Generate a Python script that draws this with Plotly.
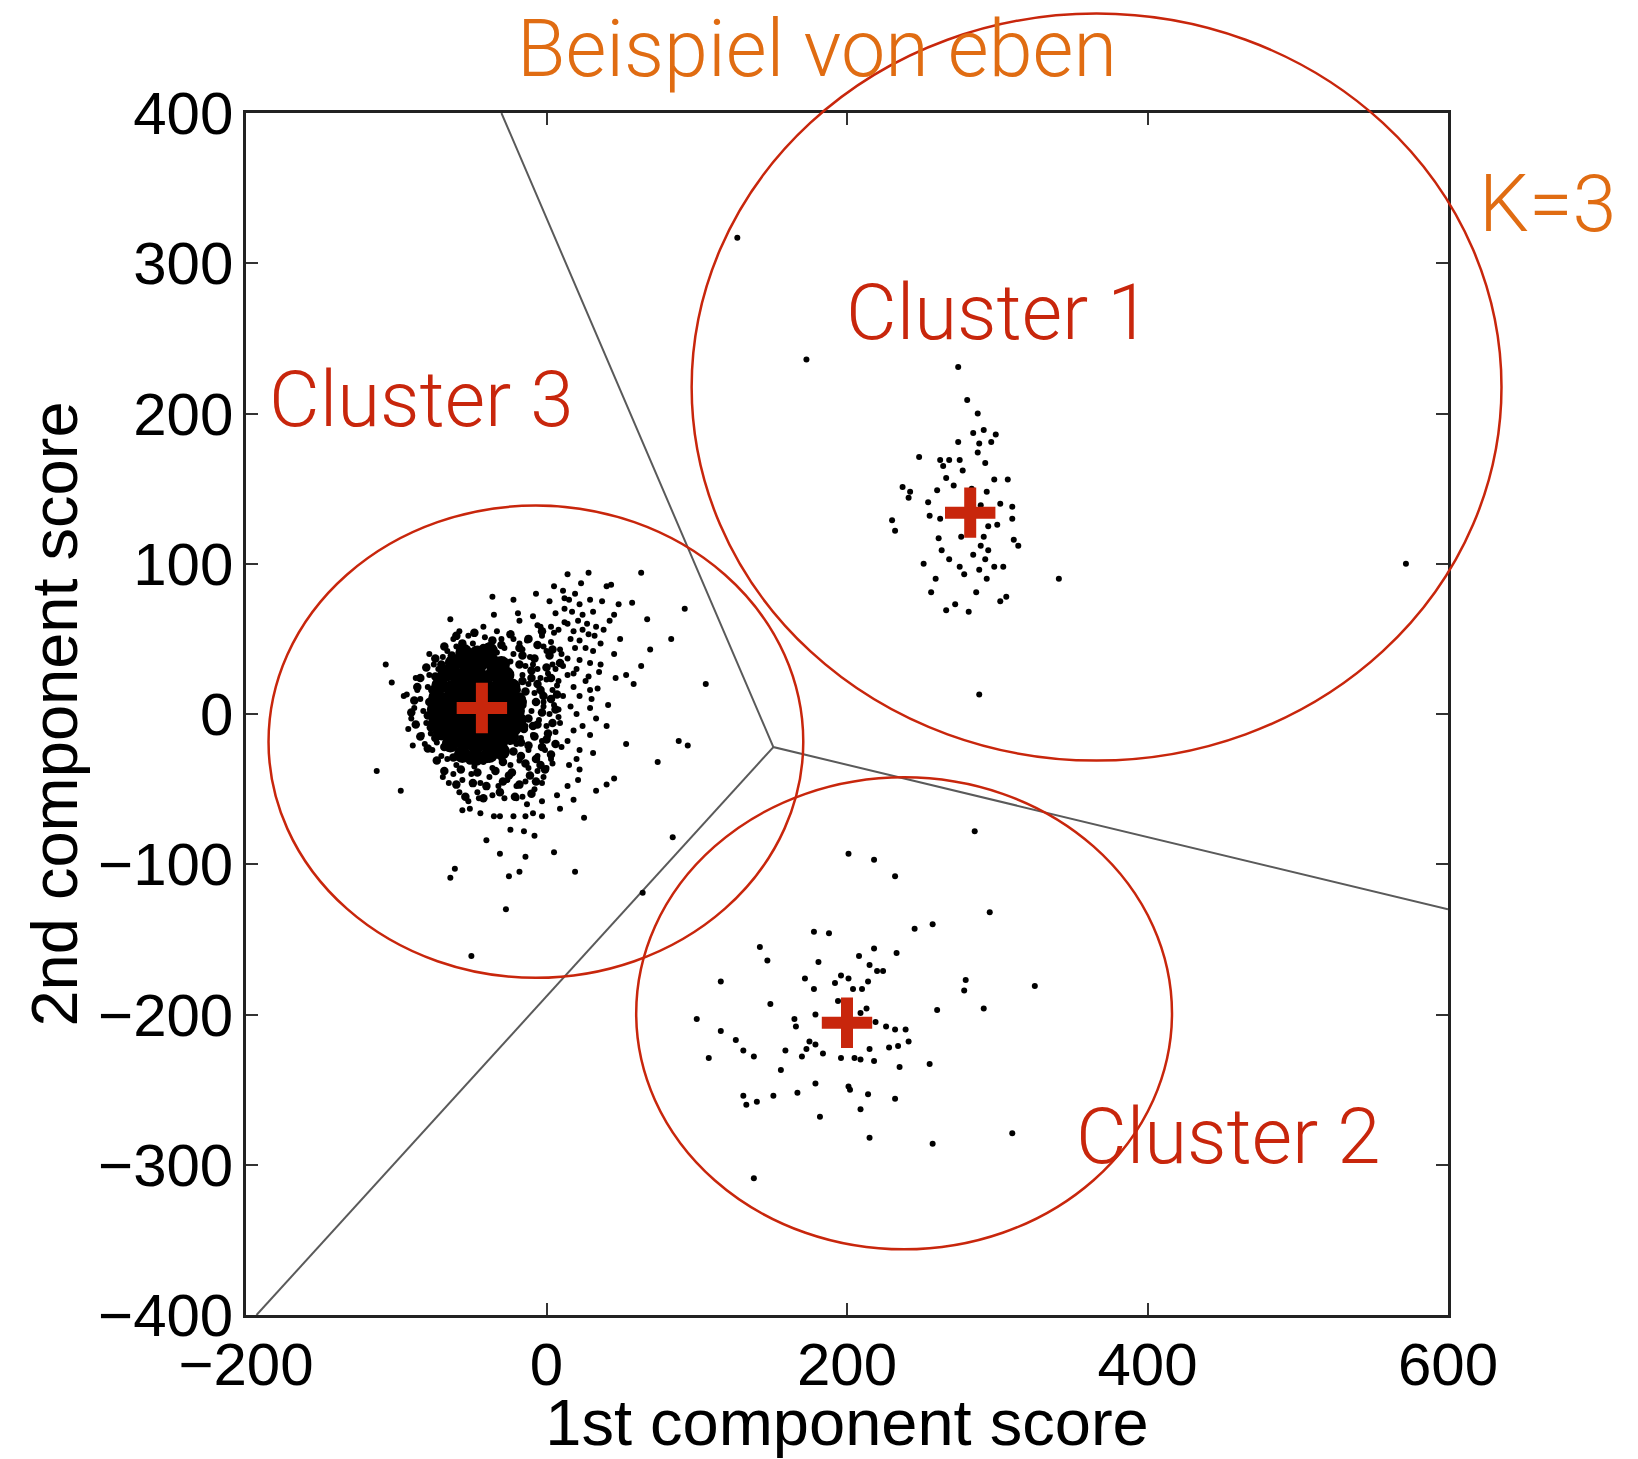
import plotly.graph_objects as go

# ---- data: principal component scores grouped by k-means cluster (K=3) ----

# cluster 3: loose points around the dense core
cluster3_points = [
    (14, 93), (28, 94), (63, 94), (43, 86), (40, 85), (23, 87), (5, 85), (-7, 80),
    (11, 82), (19, 80), (-36, 78), (-22, 76), (2, 75), (12, 77), (15, 76), (29, 76),
    (37, 75), (22, 73), (48, 73), (57, 74), (92, 70), (-35, 66), (-19, 67), (-9, 65),
    (6, 67), (17, 68), (31, 68), (45, 66), (42, 62), (67, 63), (-64, 63), (-18, 62),
    (-6, 59), (3, 58), (12, 61), (21, 62), (27, 60), (33, 58), (-58, 55), (-42, 58),
    (-33, 55), (-22, 50), (-13, 49), (-3, 52), (5, 54), (16, 50), (22, 49), (28, 53),
    (49, 50), (83, 50), (36, 47), (69, 43), (19, 44), (9, 43), (0, 42), (31, 42),
    (-78, 40), (22, 36), (29, 34), (36, 33), (45, 40), (14, 37), (63, 32), (-107, 33),
    (-9, 33), (4, 33), (11, 32), (18, 27), (28, 25), (35, 28), (46, 24), (53, 26),
    (58, 20), (106, 20), (-103, 21), (-93, 13), (0, 23), (7, 19), (18, 18), (29, 16),
    (-3, 14), (11, 12), (22, 12), (34, 17), (41, 6), (8, 3), (16, 5), (29, 4),
    (-2, 5), (33, -3), (40, -8), (9, -6), (18, -11), (29, -14), (53, -20), (88, -18),
    (94, -21), (1, -15), (10, -22), (22, -24), (31, -26), (74, -32), (15, -34), (22, -37),
    (4, -33), (-89, -21), (-113, -38), (-97, -51), (-69, -42), (45, -43), (40, -47), (33, -51),
    (14, -48), (21, -44), (-3, -46), (7, -54), (18, -57), (-20, -56), (-13, -60), (-3, -58),
    (9, -63), (-45, -56), (-56, -64), (-51, -63), (-44, -66), (-35, -68), (-31, -68), (-22, -68),
    (-14, -68), (-9, -66), (-3, -68), (25, -69), (-24, -77), (-15, -78), (-8, -81), (-40, -84),
    (84, -82), (-31, -93), (-14, -95), (5, -92), (-61, -103), (-64, -109), (-25, -108), (-18, -105),
    (19, -105), (64, -119), (-27, -130), (-50, -161),
    (-84, 10), (-82, 2), (-80, -6), (-79, 18), (-78, 26), (-77, -13), (-76, 8), (-75, 33),
    (-74, -2), (-73, -19), (-72, 14), (-71, 22), (-70, -10), (-72, 30), (-69, 38), (-83, -14),
    (-86, 16), (-81, -20), (-76, -24), (-70, -28), (-88, 4), (-90, -3), (-87, 24), (-95, 12),
    (-92, -10), (-66, 42), (-60, 45), (-54, 41), (-49, 47), (-44, 43), (-38, 46), (-33, 41),
    (-28, 44), (-22, 40), (-16, 43), (-62, 50), (-52, 52), (-41, 51), (-30, 50), (-18, 47),
    (-11, 38), (-57, 38), (-46, 39), (-35, 37), (-24, 35), (-14, 32), (-16, 26), (-12, 20),
    (-8, 14), (-15, 8), (-10, 2), (-5, -4), (-14, -8), (-9, -14), (-3, -18), (-17, -16),
    (-12, -24), (-6, -28), (-2, 8), (2, 0), (4, 16), (-4, 24), (-19, 16), (-16, -2),
    (0, -8), (6, -12), (-6, 30), (1, 27), (5, 6), (-1, -24), (3, -30), (8, -2),
    (8, 22), (-20, -20), (-66, -30), (-60, -34), (-54, -30), (-48, -35), (-42, -32), (-36, -36),
    (-30, -30), (-24, -34), (-18, -31), (-12, -36), (-6, -38), (-62, -40), (-56, -44), (-50, -40),
    (-44, -46), (-38, -42), (-32, -48), (-26, -44), (-20, -48), (-14, -45), (-8, -50), (-2, -42),
    (-46, -52), (-36, -54), (-28, -56), (-16, -55), (-58, -52), (-52, -58), (-65, -46), (0, -36),
    (-2, 45), (3, 48), (8, 56), (14, 60), (18, 55), (24, 56), (10, 40), (26, 44),
    (32, 52), (38, 56), (24, 66), (12, 70), (-4, 58), (6, 30), (14, 26), (20, 30),
    (26, 22), (30, 10), (20, 0), (24, -8), (14, -18), (20, -30),
]

# cluster 3: crowded band around the centre, where the points overlap heavily
cluster3_crowded = [
    (-60, 52), (-48, 54), (-36, 49), (-24, 53), (-12, 50), (-3, 55),
    (-68, 45), (-56, 47), (-42, 44), (-30, 46), (-18, 44), (-6, 46), (4, 43),
    (-74, 37), (-63, 39), (-16, 39), (-8, 37), (2, 39),
    (-80, 31), (-70, 33), (-18, 33), (-10, 29), (0, 31), (9, 34),
    (-84, 24), (-74, 25), (-16, 22), (-6, 20), (3, 24),
    (-86, 18), (-76, 16), (-14, 15), (-4, 16), (7, 13),
    (-88, 9), (-78, 8), (-16, 6), (-7, 8), (3, 10),
    (-90, 1), (-79, -1), (-12, -3), (-3, 1), (6, 3),
    (-87, -7), (-77, -9), (-15, -10), (-6, -7), (4, -6),
    (-84, -15), (-74, -16), (-17, -19), (-8, -15), (1, -13),
    (-79, -23), (-68, -22), (-22, -25), (-12, -21), (-3, -22), (6, -20),
    (-73, -31), (-62, -29), (-51, -31), (-40, -30), (-29, -32), (-17, -28), (-7, -30), (3, -27),
    (-68, -38), (-57, -37), (-46, -39), (-34, -38), (-23, -39), (-11, -41), (-1, -37),
    (-60, -47), (-49, -46), (-40, -48), (-29, -45), (-18, -47), (-7, -45),
    (-54, -55), (-42, -56), (-31, -52), (-21, -55), (-10, -53),
    (-10, 24), (-2, 12), (-9, -8), (0, -17), (-14, -33), (-4, -34), (-25, -41),
]

# cluster 3: the saturated centre of the point cloud
cluster3_core = [
    (-56, -27), (-47, -29), (-38, -27), (-30, -25),
    (-64, -20), (-55, -19), (-47, -21), (-39, -20), (-31, -18), (-24, -15),
    (-70, -12), (-62, -14), (-54, -13), (-46, -14), (-38, -13), (-30, -11), (-22, -9),
    (-73, -5), (-66, -6), (-58, -7), (-50, -6), (-42, -7), (-34, -4), (-26, -3), (-19, -5),
    (-74, 3), (-67, 1), (-60, 1), (-52, -1), (-44, 0), (-36, 2), (-28, 4), (-20, 2),
    (-73, 11), (-66, 9), (-58, 9), (-50, 8), (-42, 9), (-34, 10), (-26, 12), (-19, 9),
    (-71, 19), (-63, 17), (-55, 17), (-47, 16), (-39, 17), (-31, 19), (-23, 18),
    (-67, 27), (-59, 25), (-51, 25), (-43, 24), (-35, 27), (-27, 26),
    (-62, 34), (-53, 33), (-45, 33), (-37, 35), (-30, 33),
    (-55, 41), (-46, 40), (-38, 42),
]

cluster1_points = [
    (127, 317), (173, 236), (274, 231), (280, 209), (287, 200), (284, 187), (291, 189), (299, 186),
    (274, 181), (288, 180), (296, 181), (287, 174), (248, 171), (262, 169), (268, 169), (275, 169),
    (264, 165), (292, 167), (277, 162), (266, 157), (298, 156), (307, 156), (271, 152), (237, 151),
    (242, 148), (241, 144), (260, 149), (283, 150), (293, 148), (254, 141), (289, 139), (302, 140),
    (310, 138), (255, 132), (262, 130), (310, 130), (230, 129), (232, 122), (294, 125), (300, 126),
    (291, 118), (261, 117), (276, 118), (311, 116), (314, 112), (289, 112), (263, 109), (284, 106),
    (294, 109), (268, 103), (292, 103), (251, 100), (275, 98), (288, 96), (298, 98), (304, 98),
    (278, 93), (293, 90), (259, 90), (341, 90), (256, 81), (286, 81), (306, 78), (302, 75),
    (272, 73), (266, 69), (281, 68), (288, 13), (572, 100),
]

cluster2_points = [
    (285, -78), (201, -93), (218, -97), (232, -108), (295, -132), (257, -140), (245, -143), (178, -145),
    (188, -146), (142, -155), (147, -164), (218, -156), (233, -159), (208, -161), (181, -165), (215, -167),
    (220, -171), (224, -171), (116, -178), (172, -176), (196, -174), (201, -176), (192, -179), (214, -178),
    (210, -183), (178, -183), (204, -183), (279, -177), (278, -184), (325, -181), (149, -193), (194, -191),
    (213, -196), (209, -199), (179, -200), (260, -197), (291, -196), (100, -203), (165, -203), (166, -208),
    (219, -205), (226, -208), (232, -210), (239, -210), (116, -211), (126, -217), (175, -218), (179, -220),
    (241, -218), (228, -222), (234, -221), (131, -224), (159, -224), (173, -223), (138, -228), (170, -228),
    (184, -226), (196, -229), (205, -229), (209, -230), (215, -223), (218, -231), (108, -229), (156, -237),
    (235, -235), (255, -233), (179, -246), (201, -248), (202, -250), (131, -254), (133, -260), (140, -258),
    (151, -254), (167, -252), (214, -253), (232, -256), (209, -263), (182, -268), (215, -282), (257, -286),
    (310, -279), (138, -309),
]

# cluster centres (order: cluster 1, cluster 2, cluster 3)
centroid_x = [282, 200, -43]
centroid_y = [134, -205.5, 4]

# Voronoi cell boundaries between the three centres
boundary_x = [-30, 151, 600, None, -193, 151]
boundary_y = [400, -22, -130, None, -400, -22]

# hand-drawn outlines around each cluster: (x0, x1, y0, y1) in score units
cluster_outlines = [
    (96.6, 635.6, -31.0, 466.2),
    (59.7, 416.3, -356.3, -42.1),
    (-185.0, 170.9, -175.6, 138.7),
]

x_ticks = [-200, 0, 200, 400, 600]
y_ticks = [-400, -300, -200, -100, 0, 100, 200, 300, 400]
X_RANGE = [-200, 600]
Y_RANGE = [-400, 400]


def tick_text(values):
    return [("\u2212" + str(abs(v))) if v < 0 else str(v) for v in values]


def unzip(points):
    return [p[0] for p in points], [p[1] for p in points]


# axis-domain fraction for a score value, so overlays can sit outside the frame
def to_domain(v, rng):
    return (v - rng[0]) / (rng[1] - rng[0])


RED = "#C8260C"
ORANGE = "#E06C12"
LABEL_FONT = "Roboto"

fig = go.Figure()

fig.add_trace(go.Scatter(
    x=boundary_x, y=boundary_y, mode="lines",
    line=dict(color="#5a5a5a", width=2), hoverinfo="skip",
))

point_sets = (
    (cluster3_points, 6),
    (cluster3_crowded, 8.5),
    (cluster3_core, 17),
    (cluster1_points, 6),
    (cluster2_points, 6),
)
for pts, size in point_sets:
    xs, ys = unzip(pts)
    fig.add_trace(go.Scatter(
        x=xs, y=ys, mode="markers",
        marker=dict(color="black", size=size, line=dict(width=0)),
    ))

fig.add_trace(go.Scatter(
    x=centroid_x, y=centroid_y, mode="markers",
    marker=dict(symbol="cross-thin", size=36, line=dict(color=RED, width=12)),
))

for x0, x1, y0, y1 in cluster_outlines:
    fig.add_shape(
        type="circle", xref="x domain", yref="y domain",
        x0=to_domain(x0, X_RANGE), x1=to_domain(x1, X_RANGE),
        y0=to_domain(y0, Y_RANGE), y1=to_domain(y1, Y_RANGE),
        line=dict(color=RED, width=2.5), layer="above",
    )

# text labels, placed in score units
labels = [
    ("Cluster 1", 301, 267, RED, 78),
    ("Cluster 2", 454, -281.5, RED, 78),
    ("Cluster 3", -83, 209, RED, 78),
    ("K=3", 666, 339.4, ORANGE, 79),
    ("Beispiel von eben", 180, 442.7, ORANGE, 79),
]
for text, x, y, color, size in labels:
    fig.add_annotation(
        x=to_domain(x, X_RANGE), y=to_domain(y, Y_RANGE), xref="paper", yref="paper",
        text=text, showarrow=False, xanchor="center", yanchor="middle",
        font=dict(family=LABEL_FONT, size=size, color=color, weight=300),
    )

axis_common = dict(
    showgrid=False, zeroline=False, showline=True, linecolor="#222222", linewidth=2.5,
    mirror="ticks", ticks="inside", ticklen=12, tickwidth=1.5, tickcolor="#333333",
    tickfont=dict(family="Liberation Sans", size=60, color="black"),
    title_font=dict(family="Liberation Sans", size=65, color="black"),
)

fig.update_xaxes(
    range=X_RANGE, tickvals=x_ticks, ticktext=tick_text(x_ticks),
    title_text="1st component score", title_standoff=3, ticklabelstandoff=-5,
    **axis_common,
)
fig.update_yaxes(
    range=Y_RANGE, tickvals=y_ticks, ticktext=tick_text(y_ticks),
    title_text="2nd component score", title_standoff=0, ticklabelstandoff=-2,
    **axis_common,
)

fig.update_layout(
    width=1638, height=1459,
    margin=dict(l=246, r=190, t=113, b=144, autoexpand=False),
    plot_bgcolor="white", paper_bgcolor="white",
    showlegend=False,
)

fig.write_html("out.html")
